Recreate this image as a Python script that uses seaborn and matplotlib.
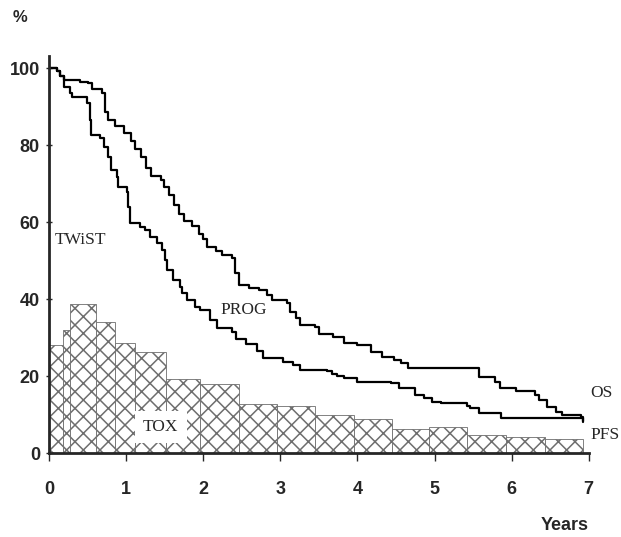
import numpy as np
import pandas as pd
import matplotlib
matplotlib.use("Agg")
import matplotlib.pyplot as plt
import seaborn as sns

sns.set_style("white")
plt.rcParams["font.family"] = ["Liberation Sans", "DejaVu Sans"]
plt.rcParams["hatch.linewidth"] = 1.1

# overall survival (step curve, years / %)
os_t = [0, 0.1, 0.14, 0.2, 0.40, 0.5, 0.56, 0.69, 0.73, 0.77, 0.86, 0.97, 1.06, 1.12, 1.19,
        1.26, 1.32, 1.45, 1.49, 1.56, 1.62, 1.69, 1.75, 1.86, 1.94, 2.0, 2.05, 2.16, 2.24,
        2.37, 2.41, 2.46, 2.59, 2.72, 2.83, 2.89, 3.09, 3.13, 3.2, 3.26, 3.45, 3.5, 3.69,
        3.82, 4.0, 4.17, 4.32, 4.47, 4.56, 4.65, 5.58, 5.79, 5.85, 6.06, 6.3, 6.35, 6.46,
        6.57, 6.66, 6.9, 6.92]
os_v = [100, 99.3, 98, 97, 96.5, 96, 94.5, 93.5, 88.6, 86.5, 85, 83, 81, 79, 77,
        74, 72, 71, 69, 67, 64.5, 62, 60.2, 59, 57, 55.5, 53.6, 52.5, 51.4,
        50.6, 46.7, 43.6, 42.8, 42.3, 41, 39.7, 38.9, 36.7, 35, 33.2, 32.8, 30.9, 30.2,
        28.5, 28, 26.3, 25, 24.2, 23.5, 22, 19.8, 18.5, 16.8, 16.2, 15, 13.8, 12,
        10.7, 9.9, 9.4, 8.1]

# progression-free survival
pfs_t = [0, 0.1, 0.14, 0.2, 0.27, 0.3, 0.49, 0.53, 0.55, 0.66, 0.71, 0.77, 0.81, 0.88, 0.9,
         1.01, 1.03, 1.05, 1.18, 1.25, 1.31, 1.4, 1.46, 1.51, 1.53, 1.61, 1.7, 1.72, 1.79,
         1.9, 1.96, 2.09, 2.18, 2.37, 2.42, 2.55, 2.7, 2.78, 3.04, 3.17, 3.26, 3.6, 3.67,
         3.74, 3.82, 4.0, 4.43, 4.54, 4.75, 4.86, 4.97, 5.08, 5.42, 5.46, 5.58, 5.86, 6.9, 6.92]
pfs_v = [100, 99.3, 98, 95.1, 93.4, 92.4, 90.8, 86.5, 82.6, 81.7, 79.6, 77, 73.5, 71.8, 69.2,
         67.9, 64, 59.7, 58.8, 57.9, 56.2, 54.5, 52.7, 50.1, 47.5, 44.9, 43.2, 41.5, 39.7,
         38, 37.1, 34.5, 32.4, 31.5, 29.5, 28.3, 26.5, 24.6, 23.7, 22.9, 21.6, 21.2, 20.5,
         20.1, 19.4, 18.5, 18.1, 16.8, 15, 14.2, 13.3, 13.0, 12.2, 11.7, 10.3, 9, 9, 8.2]

# toxicity histogram
tox_edges = [0, 0.18, 0.27, 0.61, 0.86, 1.11, 1.52, 1.96, 2.47, 2.96, 3.45, 3.95, 4.45,
             4.93, 5.42, 5.93, 6.43, 6.93]
tox_vals = [28, 32, 38.7, 34, 28.5, 26.3, 19.2, 18, 12.7, 12.3, 9.8, 8.8, 6.2, 6.7, 4.8, 4.2, 3.7]

tox_mid = (np.array(tox_edges[:-1]) + np.array(tox_edges[1:])) / 2

fig = plt.figure(figsize=(6.21, 5.37), dpi=100)
ax = fig.add_axes([0.0789, 0.1564, 0.8753, 0.7384])

sns.histplot(x=tox_mid, weights=tox_vals, bins=tox_edges, stat="count", ax=ax,
             color="white", edgecolor="#6e6e6e", linewidth=0.6, hatch="xx", alpha=1)

os_df = pd.DataFrame({"t": os_t, "v": os_v})
pfs_df = pd.DataFrame({"t": pfs_t, "v": pfs_v})
sns.lineplot(data=os_df, x="t", y="v", estimator=None, drawstyle="steps-post",
             color="black", linewidth=1.6, ax=ax)
sns.lineplot(data=pfs_df, x="t", y="v", estimator=None, drawstyle="steps-post",
             color="black", linewidth=1.6, ax=ax)

serif = dict(family=["Liberation Serif", "DejaVu Serif"], fontsize=12.5)
ax.text(0.08, 55.3, "TWiST", va="center", ha="left", **serif)
ax.text(2.22, 37.1, "PROG", va="center", ha="left", **serif)
ax.text(1.22, 6.8, "TOX", va="center", ha="left",
        bbox=dict(facecolor="white", edgecolor="none", pad=6), **serif)
ax.text(7.02, 15.6, "OS", va="center", ha="left", clip_on=False,
        family=["Liberation Serif", "DejaVu Serif"], fontsize=12.5)
ax.text(7.02, 4.7, "PFS", va="center", ha="left", clip_on=False,
        family=["Liberation Serif", "DejaVu Serif"], fontsize=12.5)

ax.set_xlim(0, 7.05)
ax.set_ylim(0, 103)
ax.set_xticks(range(0, 8))
ax.set_yticks(range(0, 101, 20))
ax.set_xlabel("")
ax.set_ylabel("")
sns.despine(ax=ax)
ax.spines["left"].set_linewidth(2)
ax.spines["bottom"].set_linewidth(2)
ax.spines["bottom"].set_bounds(0, 7)
ax.tick_params(axis="x", direction="out", length=6, width=1, pad=14, labelsize=13, bottom=True)
ax.tick_params(axis="y", direction="inout", length=5, width=1, pad=4, labelsize=13, left=True)
for lab in ax.get_xticklabels() + ax.get_yticklabels():
    lab.set_fontweight("bold")

fig.text(20 / 621, 1 - 18 / 537, "%", fontsize=12, fontweight="bold", ha="center", va="center")
fig.text(565 / 621, 1 - 526 / 537, "Years", fontsize=13, fontweight="bold", ha="center", va="center")

fig.savefig("out.png", dpi=100)
